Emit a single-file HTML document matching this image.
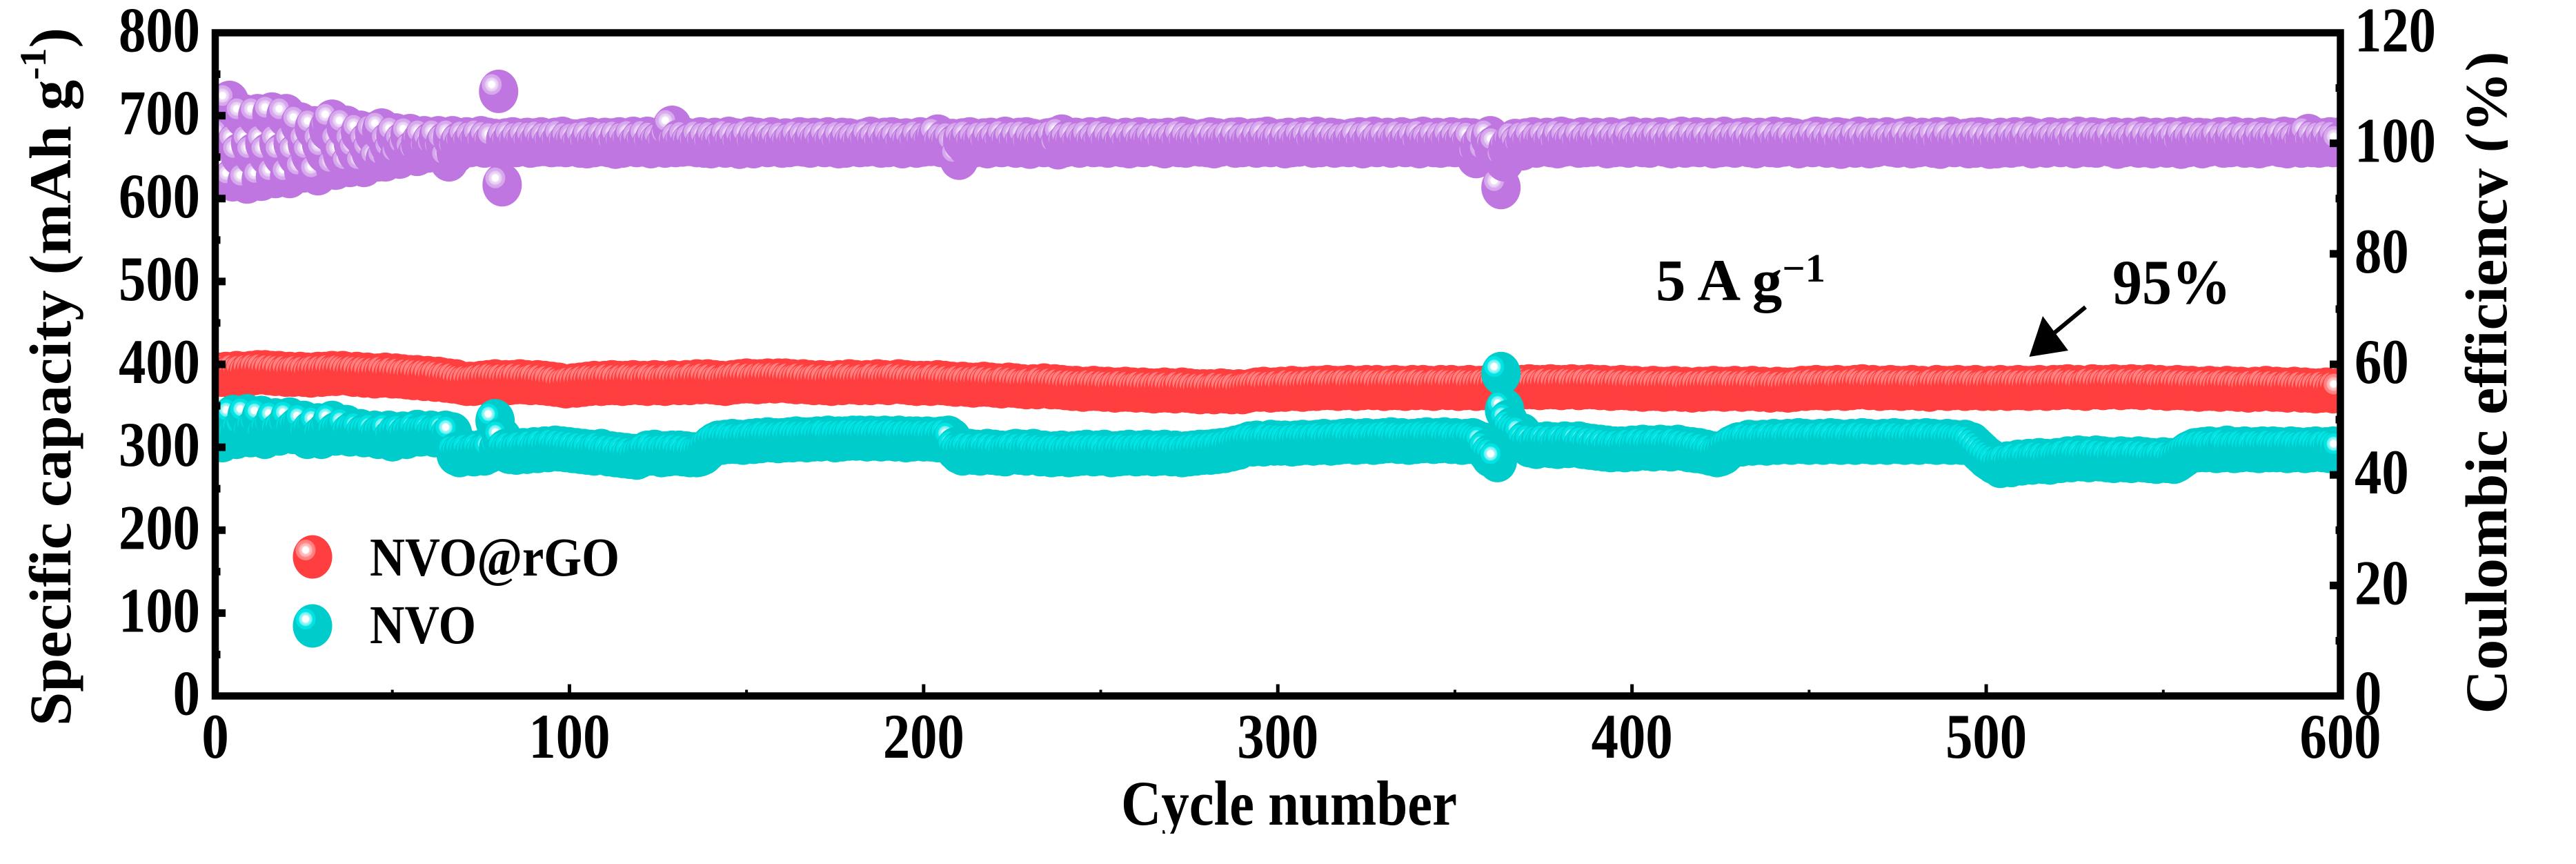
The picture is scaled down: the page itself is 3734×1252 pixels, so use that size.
<!DOCTYPE html>
<html lang="en">
<head>
<meta charset="utf-8">
<title>Cycling performance chart</title>
<style>
html,body{margin:0;padding:0;background:#fff;}
svg{display:block;}
text{font-family:"Liberation Serif",serif;font-weight:bold;fill:#000;}
</style>
</head>
<body>
<svg id="chart" xmlns="http://www.w3.org/2000/svg" width="3734" height="1252" viewBox="0 0 3734 1252">
<defs>
<clipPath id="plot-clip"><rect x="312" y="47" width="3080" height="962"/></clipPath>
<radialGradient id="hl-red"><stop offset="0" stop-color="#fff"/><stop offset=".3" stop-color="#fff"/><stop offset=".42" stop-color="#FFC4C4"/><stop offset=".62" stop-color="#FFB0B0"/><stop offset=".72" stop-color="#FF8585"/><stop offset="1" stop-color="#FF7C7C"/></radialGradient>
<radialGradient id="hl-cyan"><stop offset="0" stop-color="#fff"/><stop offset=".3" stop-color="#fff"/><stop offset=".42" stop-color="#A0F5F5"/><stop offset=".62" stop-color="#70F0F0"/><stop offset=".72" stop-color="#00E6E6"/><stop offset="1" stop-color="#00E2E2"/></radialGradient>
<radialGradient id="hl-purple"><stop offset="0" stop-color="#fff"/><stop offset=".3" stop-color="#fff"/><stop offset=".42" stop-color="#EEDCF7"/><stop offset=".62" stop-color="#E6CBF4"/><stop offset=".72" stop-color="#D8ABED"/><stop offset="1" stop-color="#D5A5EC"/></radialGradient>
</defs>
<g id="series-layer" clip-path="url(#plot-clip)"></g>
<rect x="312" y="47.5" width="3080.5" height="961" fill="none" stroke="#000" stroke-width="10.5"/>
<g id="tick-layer"></g>
<text transform="translate(102,1052) rotate(-90)" font-size="86" textLength="1012" lengthAdjust="spacingAndGlyphs">Specific capacity (mAh g<tspan dy="-36" font-size="54">-1</tspan><tspan dy="36">)</tspan></text>
<text transform="translate(3633,1034.5) rotate(-90)" font-size="86" textLength="960" lengthAdjust="spacingAndGlyphs">Coulombic efficiency (%)</text>
<rect x="3635" y="0" width="99" height="1252" fill="#fff"/>
<text x="1625" y="1195" font-size="92" textLength="487" lengthAdjust="spacingAndGlyphs">Cycle number</text>
<rect x="0" y="1208" width="3734" height="44" fill="#fff"/>
<text x="2400" y="435" font-size="86" textLength="246" lengthAdjust="spacingAndGlyphs">5 A g<tspan dy="-27" font-size="58">−1</tspan></text>
<text x="3062" y="440" font-size="92" textLength="172" lengthAdjust="spacingAndGlyphs">95%</text>
<g>
<line x1="3023" y1="445" x2="2977" y2="483" stroke="#000" stroke-width="6"/>
<polygon points="2941.5,517 2961,458 2998,508" fill="#000"/>
</g>
<g>
<g>
<ellipse cx="453" cy="807" rx="28.5" ry="31.5" fill="#FF3F3F"/>
<ellipse cx="443" cy="797" rx="14.5" ry="15" fill="url(#hl-red)"/>
<text x="536" y="834" font-size="79" textLength="362" lengthAdjust="spacingAndGlyphs">NVO@rGO</text>
</g>
<g>
<ellipse cx="453" cy="907" rx="28.5" ry="31.5" fill="#00CCCC"/>
<ellipse cx="443" cy="897" rx="14.5" ry="15" fill="url(#hl-cyan)"/>
<text x="536" y="932" font-size="79" textLength="154" lengthAdjust="spacingAndGlyphs">NVO</text>
</g>
</g>
</svg>
<script>
var xTickLabels = [0,100,200,300,400,500,600];
var yLeftTickLabels = [0,100,200,300,400,500,600,700,800];
var yRightTickLabels = [0,20,40,60,80,100,120];

var capacityNvoRgo = [
/*1*/ 388,387,389,386,388,390,388,389,387,390,
/*11*/ 389,391,390,391,389,390,388,390,389,387,
/*21*/ 389,387,388,389,387,388,386,388,389,387,
/*31*/ 389,388,390,388,389,390,389,388,387,389,
/*41*/ 388,386,388,387,385,387,386,388,386,385,
/*51*/ 387,385,386,384,385,383,385,384,382,384,
/*61*/ 383,381,383,382,380,381,379,380,378,377,
/*71*/ 376,377,376,377,378,377,379,378,380,379,
/*81*/ 378,379,377,379,378,380,378,379,377,378,
/*91*/ 379,377,378,376,377,375,376,374,373,374,
/*101*/ 375,374,376,375,377,376,378,377,376,378,
/*111*/ 377,379,377,378,376,378,377,379,378,377,
/*121*/ 378,376,378,379,377,378,376,377,379,378,
/*131*/ 377,378,379,377,378,380,378,379,380,378,
/*141*/ 379,377,378,376,377,379,378,380,379,381,
/*151*/ 379,380,378,380,379,381,380,379,381,380,
/*161*/ 381,379,380,378,379,380,378,379,377,378,
/*171*/ 379,377,378,376,378,379,377,378,380,378,
/*181*/ 379,377,378,379,377,378,380,378,379,377,
/*191*/ 378,379,380,378,379,377,378,376,378,377,
/*201*/ 378,376,377,379,377,378,376,377,375,376,
/*211*/ 377,375,376,374,376,375,377,375,376,374,
/*221*/ 375,373,374,376,374,375,373,374,372,373,
/*231*/ 374,372,373,375,373,372,374,372,373,371,
/*241*/ 372,370,372,371,369,371,370,372,370,371,
/*251*/ 369,371,370,368,370,369,371,369,370,368,
/*261*/ 369,370,368,369,367,369,368,370,368,369,
/*271*/ 367,368,370,368,369,367,368,366,368,367,
/*281*/ 368,366,367,369,367,368,366,367,368,366,
/*291*/ 367,368,369,370,369,371,370,368,370,369,
/*301*/ 371,369,370,372,370,371,369,371,370,372,
/*311*/ 370,372,371,373,371,372,370,372,371,373,
/*321*/ 372,370,372,371,373,372,371,373,372,370,
/*331*/ 372,371,373,371,372,370,372,373,371,372,
/*341*/ 373,371,372,370,371,373,372,371,373,372,
/*351*/ 370,372,371,373,372,370,372,371,373,372,
/*361*/ 371,373,372,370,372,374,372,371,373,372,
/*371*/ 374,372,373,371,373,372,374,372,373,371,
/*381*/ 373,372,374,373,371,373,372,374,372,373,
/*391*/ 371,373,372,370,372,371,373,371,372,370,
/*401*/ 372,371,369,371,370,372,370,371,369,371,
/*411*/ 370,372,371,369,371,370,368,370,371,369,
/*421*/ 371,370,372,370,371,369,371,370,372,371,
/*431*/ 369,371,370,372,370,369,371,370,368,370,
/*441*/ 371,369,370,368,370,369,371,372,370,372,
/*451*/ 371,373,371,372,370,372,371,373,372,370,
/*461*/ 372,371,373,372,374,372,371,373,372,370,
/*471*/ 372,371,373,371,372,370,372,371,373,372,
/*481*/ 370,372,371,369,371,373,371,372,370,372,
/*491*/ 371,373,372,370,372,371,373,372,370,371,
/*501*/ 372,370,371,373,372,370,372,371,373,371,
/*511*/ 372,370,372,371,373,372,370,372,373,371,
/*521*/ 373,372,374,372,371,373,372,370,372,374,
/*531*/ 372,373,371,373,372,374,373,371,373,372,
/*541*/ 374,372,373,371,373,374,372,371,373,372,
/*551*/ 370,372,371,373,371,372,370,372,371,369,
/*561*/ 371,370,372,370,371,369,371,372,370,371,
/*571*/ 369,371,370,368,370,371,369,370,372,370,
/*581*/ 369,371,369,370,368,370,371,369,368,370,
/*591*/ 368,369,367,369,368,370,368,367,369,368
];

var capacityNvo = [
/*1*/ 320,308,322,318,337,312,318,322,338,314,
/*11*/ 320,324,336,312,318,322,333,316,320,322,
/*21*/ 334,318,322,324,330,312,318,320,327,312,
/*31*/ 316,320,330,316,318,320,325,315,318,318,
/*41*/ 320,314,316,317,318,312,315,316,318,309,
/*51*/ 314,316,317,312,315,315,319,315,316,317,
/*61*/ 318,314,316,316,318,312,316,292,290,293,
/*71*/ 292,294,291,293,295,292,294,296,332,298,
/*81*/ 310,296,294,296,293,295,297,294,296,298,
/*91*/ 295,297,299,296,298,300,297,299,296,298,
/*101*/ 295,297,294,296,293,295,292,294,296,293,
/*111*/ 291,293,290,292,289,291,288,290,287,289,
/*121*/ 291,294,292,295,292,290,293,291,294,292,
/*131*/ 294,291,293,290,292,290,291,293,297,301,
/*141*/ 304,306,305,307,306,308,306,307,305,307,
/*151*/ 308,306,309,307,308,310,308,309,307,309,
/*161*/ 308,310,308,311,309,310,308,310,309,311,
/*171*/ 309,310,312,310,308,311,309,311,310,312,
/*181*/ 310,312,311,309,312,310,311,309,312,310,
/*191*/ 311,309,312,310,308,311,309,311,310,309,
/*201*/ 311,309,310,308,311,309,312,309,298,294,
/*211*/ 292,294,296,293,295,292,294,296,293,295,
/*221*/ 292,294,291,293,295,296,293,295,292,294,
/*231*/ 296,293,291,294,292,290,293,291,294,292,
/*241*/ 290,293,291,294,292,295,293,291,294,292,
/*251*/ 295,293,290,293,291,294,292,295,293,291,
/*261*/ 294,292,295,293,291,294,292,295,293,291,
/*271*/ 294,292,290,293,291,294,292,295,293,295,
/*281*/ 293,296,294,297,295,298,297,300,299,302,
/*291*/ 303,305,303,306,304,303,305,307,304,306,
/*301*/ 304,306,305,303,306,304,307,305,306,304,
/*311*/ 307,305,308,306,304,307,305,308,306,309,
/*321*/ 307,305,308,306,309,307,305,308,306,309,
/*331*/ 307,310,308,306,309,307,305,308,306,309,
/*341*/ 307,310,308,306,309,307,310,308,306,309,
/*351*/ 307,305,308,306,309,307,305,304,296,290,
/*361*/ 288,284,389,345,331,322,318,316,315,306,
/*371*/ 302,305,300,304,302,305,301,304,300,303,
/*381*/ 305,301,304,302,305,300,303,299,302,298,
/*391*/ 301,297,300,296,299,297,299,296,298,300,
/*401*/ 297,299,301,298,300,297,299,301,298,300,
/*411*/ 297,299,301,298,299,296,298,295,297,294,
/*421*/ 295,292,293,290,291,293,297,300,302,304,
/*431*/ 303,305,307,304,306,305,307,304,306,308,
/*441*/ 305,307,306,308,305,307,309,306,308,305,
/*451*/ 307,306,308,305,307,309,306,308,305,307,
/*461*/ 306,308,305,307,309,306,308,305,307,306,
/*471*/ 308,305,307,309,306,308,305,307,306,308,
/*481*/ 305,307,309,306,308,305,307,306,308,305,
/*491*/ 307,306,305,307,305,304,300,296,292,288,
/*501*/ 285,282,280,277,279,281,278,281,283,280,
/*511*/ 282,284,281,283,285,282,284,281,283,285,
/*521*/ 283,285,287,284,286,288,285,287,284,286,
/*531*/ 288,285,287,284,286,283,285,287,284,286,
/*541*/ 283,285,287,284,286,283,285,282,284,286,
/*551*/ 283,285,282,284,287,290,293,295,297,296,
/*561*/ 298,296,299,297,295,298,296,300,297,295,
/*571*/ 298,296,299,297,296,298,295,299,297,296,
/*581*/ 299,296,298,297,295,299,296,298,297,295,
/*591*/ 298,296,299,297,296,298,295,299,297,296
];

var coulombicEfficiency = [
/*1*/ 97,101,95,107.4,93.4,100,98,105,93,100,
/*11*/ 98,105,93.5,100,98,105.3,94,100,98,105,
/*21*/ 94,100,98,103.5,95,100,98,102.8,94.5,100,
/*31*/ 98.5,102.5,104,95.5,100,98,102.9,96,100,98.5,
/*41*/ 102,96,100,98.5,101.8,97,102.4,97,100,98.5,
/*51*/ 101.5,97.5,100,99,101.4,98.5,98,100,101,98.6,
/*61*/ 100,99,101,98.5,100,97,101,98.5,100,99.5,
/*71*/ 100.8,99.6,100.6,99.8,101,99.5,100.7,99.7,100.5,109.4,
/*81*/ 92.5,100.6,99.7,100.8,99.6,100.5,99.8,100.7,99.5,100.6,
/*91*/ 99.7,100.8,99.8,100.5,99.6,100.7,99.7,100.9,99.6,100.5,
/*101*/ 99.9,100.4,99.5,100.6,99.4,100.8,99.6,100.3,99.8,100.7,
/*111*/ 99.6,100.6,99.3,100.8,99.5,100.5,99.8,100.9,99.6,100.4,
/*121*/ 99.7,100.9,99.4,100.6,99.8,100.3,99.5,100.8,102.9,99.6,
/*131*/ 100.4,99.7,100.7,99.8,100.2,99.6,100.8,99.5,100.5,99.4,
/*141*/ 100.7,99.8,100.3,99.5,100.9,99.7,100.6,99.3,100.5,99.8,
/*151*/ 100.9,99.4,100.7,99.9,100.5,99.6,100.8,99.8,100.4,99.5,
/*161*/ 100.6,99.6,100.3,99.8,100.8,99.7,100.6,99.5,100.7,99.9,
/*171*/ 100.5,99.6,100.8,99.7,100.4,99.4,100.7,99.5,100.6,99.8,
/*181*/ 100.3,99.6,100.5,99.7,100.9,99.8,100.4,99.5,100.7,99.6,
/*191*/ 100.8,99.9,100.5,99.4,100.6,99.7,100.3,99.5,100.8,99.7,
/*201*/ 100.5,99.8,100.7,101.3,99.6,100.4,99.7,100.5,99.6,97.3,
/*211*/ 100.6,99.9,100.8,99.5,100.3,99.8,100.6,99.4,100.7,99.7,
/*221*/ 100.4,99.6,100.9,99.8,100.5,99.5,100.7,99.6,100.8,99.3,
/*231*/ 100.5,99.8,100.3,99.6,100.6,99.7,100.8,99.2,101.3,99.6,
/*241*/ 100.4,99.8,100.7,99.5,100.5,99.9,100.8,99.6,100.3,99.7,
/*251*/ 100.9,99.5,100.6,99.8,100.4,99.6,100.7,99.4,100.5,99.7,
/*261*/ 100.8,99.6,100.3,99.9,100.6,99.7,100.5,99.4,100.7,99.8,
/*271*/ 100.4,99.6,100.9,99.5,100.6,99.8,100.3,99.7,100.5,99.6,
/*281*/ 100.8,99.4,100.6,99.7,100.4,99.9,100.7,99.5,100.8,99.6,
/*291*/ 100.3,99.8,100.6,99.5,100.7,99.7,100.9,99.6,100.4,99.8,
/*301*/ 100.5,99.4,100.7,99.6,100.3,99.7,100.8,99.9,100.6,99.5,
/*311*/ 100.9,99.6,100.4,99.8,100.7,99.5,100.5,99.7,100.3,99.6,
/*321*/ 100.6,99.8,100.8,99.4,100.5,99.7,100.9,99.6,100.3,99.8,
/*331*/ 100.7,99.5,100.4,99.9,100.8,99.6,100.5,99.7,100.6,99.4,
/*341*/ 100.9,99.8,100.3,99.6,100.7,99.5,100.5,99.7,100.8,99.6,
/*351*/ 100.5,99.8,100.7,99.6,100.6,97.6,99.4,100.4,98,101,
/*361*/ 99.2,99.6,92,97,99,99.8,100.5,99.6,99,100.6,
/*371*/ 99.7,100.8,99.5,100.3,99.9,100.7,99.6,100.5,99.4,100.9,
/*381*/ 99.7,100.6,99.8,100.4,99.5,100.8,99.6,100.3,99.7,100.7,
/*391*/ 99.9,100.5,99.4,100.8,99.6,100.4,99.7,100.6,99.5,100.9,
/*401*/ 99.8,100.3,99.6,100.7,99.5,100.5,99.9,100.8,99.7,100.4,
/*411*/ 99.4,100.6,99.8,100.9,99.5,100.3,99.7,100.8,99.6,100.5,
/*421*/ 99.8,100.7,99.4,100.4,99.6,100.9,99.7,100.3,99.5,100.6,
/*431*/ 99.9,100.8,99.6,100.5,99.4,100.7,99.8,100.3,99.6,100.9,
/*441*/ 99.5,100.4,99.7,100.8,99.9,100.6,99.4,100.3,99.7,100.5,
/*451*/ 99.6,100.9,99.8,100.7,99.5,100.4,99.6,100.8,99.3,100.6,
/*461*/ 99.7,100.3,99.5,100.9,99.8,100.5,99.4,100.7,99.6,100.4,
/*471*/ 99.9,100.8,99.7,100.3,99.5,100.6,99.8,100.9,99.4,100.5,
/*481*/ 99.6,100.7,99.8,100.4,99.5,100.8,99.3,100.6,99.7,100.9,
/*491*/ 99.6,100.3,99.8,100.5,99.4,100.7,99.5,100.8,99.7,100.6,
/*501*/ 99.3,100.4,99.4,100.7,99.6,100.3,99.5,100.8,99.7,100.5,
/*511*/ 99.8,100.9,99.4,100.6,99.7,100.3,99.5,100.8,99.9,100.4,
/*521*/ 99.6,100.7,99.8,100.5,99.4,100.9,99.7,100.3,99.6,100.8,
/*531*/ 99.5,100.6,99.9,100.4,99.7,100.8,99.3,100.5,99.6,100.7,
/*541*/ 99.8,100.3,99.5,100.9,99.6,100.6,99.4,100.7,99.8,100.4,
/*551*/ 99.5,100.8,99.7,100.5,99.3,100.9,99.6,100.4,99.8,100.7,
/*561*/ 99.4,100.6,99.7,100.3,99.9,100.8,99.5,100.5,99.6,100.9,
/*571*/ 99.8,100.4,99.5,100.7,99.6,100.3,99.4,100.8,99.7,100.6,
/*581*/ 99.9,100.5,99.6,100.9,99.4,100.7,99.8,100.3,99.5,100.8,
/*591*/ 101.4,99.6,100.7,99.5,100.6,99.7,100.8,99.6,100.7,100
];

var NS = 'http://www.w3.org/2000/svg';
var xDomainMax = 600, leftDomainMax = 800, rightDomainMax = 120;
var plotLeft = 312, plotRight = 3392.5, plotTop = 47.5, plotBottom = 1008.5;
function xScale(v){ return plotLeft + v * (plotRight - plotLeft) / xDomainMax; }
function yLeft(v){ return plotBottom - v * (plotBottom - plotTop) / leftDomainMax; }
function yRight(v){ return plotBottom - v * (plotBottom - plotTop) / rightDomainMax; }

function drawSeries(values, yScale, base, gradient, groupName){
  var layer = document.getElementById('series-layer');
  var group = document.createElementNS(NS, 'g');
  
  
  for (var i = 0; i < values.length; i++){
    var cx = xScale(i + 1), cy = yScale(values[i]);
    var point = document.createElementNS(NS, 'g');
    
    
    var body = document.createElementNS(NS, 'ellipse');
    body.setAttribute('cx', cx);
    body.setAttribute('cy', cy);
    body.setAttribute('rx', 28.5);
    body.setAttribute('ry', 31.5);
    body.setAttribute('fill', base);
    var glint = document.createElementNS(NS, 'ellipse');
    glint.setAttribute('cx', cx - 10);
    glint.setAttribute('cy', cy - 10);
    glint.setAttribute('rx', 14.5);
    glint.setAttribute('ry', 15);
    glint.setAttribute('fill', gradient);
    point.appendChild(body);
    point.appendChild(glint);
    group.appendChild(point);
  }
  layer.appendChild(group);
}
drawSeries(capacityNvoRgo, yLeft, '#FF3F3F', 'url(#hl-red)', 'series-nvo-rgo-capacity');
drawSeries(capacityNvo, yLeft, '#00CCCC', 'url(#hl-cyan)', 'series-nvo-capacity');
drawSeries(coulombicEfficiency, yRight, '#C076E0', 'url(#hl-purple)', 'series-coulombic-efficiency');

function tickRect(x, y, w, h){
  var r = document.createElementNS(NS, 'rect');
  
  
  r.setAttribute('x', x);
  r.setAttribute('y', y);
  r.setAttribute('width', w);
  r.setAttribute('height', h);
  r.setAttribute('fill', '#000');
  document.getElementById('tick-layer').appendChild(r);
}
function tickText(label, x, y, anchor){
  var t = document.createElementNS(NS, 'text');
  
  
  t.setAttribute('font-size', 92);
  t.setAttribute('text-anchor', anchor);
  t.setAttribute('transform', 'translate(' + x + ',' + y + ') scale(0.855,1)');
  t.textContent = label;
  document.getElementById('tick-layer').appendChild(t);
}
xTickLabels.forEach(function(v, i){
  var px = xScale(v);
  if (v > 0 && v < xDomainMax) tickRect(px - 2.5, 991.5, 5, 12);
  if (i < xTickLabels.length - 1) tickRect(xScale(v + 50) - 2, 999.5, 4, 4);
  tickText(String(v), px, 1098, 'middle');
});
yLeftTickLabels.forEach(function(v, i){
  var py = yLeft(v);
  if (v > 0 && v < leftDomainMax) tickRect(317, py - 5.5, 10, 11);
  if (i < yLeftTickLabels.length - 1) tickRect(317, yLeft(v + 50) - 5.5, 2.5, 11);
  tickText(String(v), 290, py + 27, 'end');
});
yRightTickLabels.forEach(function(v, i){
  var py = yRight(v);
  if (v > 0 && v < rightDomainMax) tickRect(3377, py - 5.5, 11, 11);
  if (i < yRightTickLabels.length - 1) tickRect(3385.5, yRight(v + 10) - 5.5, 2.5, 11);
  tickText(String(v), 3413, py + 27, 'start');
});
</script>
</body>
</html>
